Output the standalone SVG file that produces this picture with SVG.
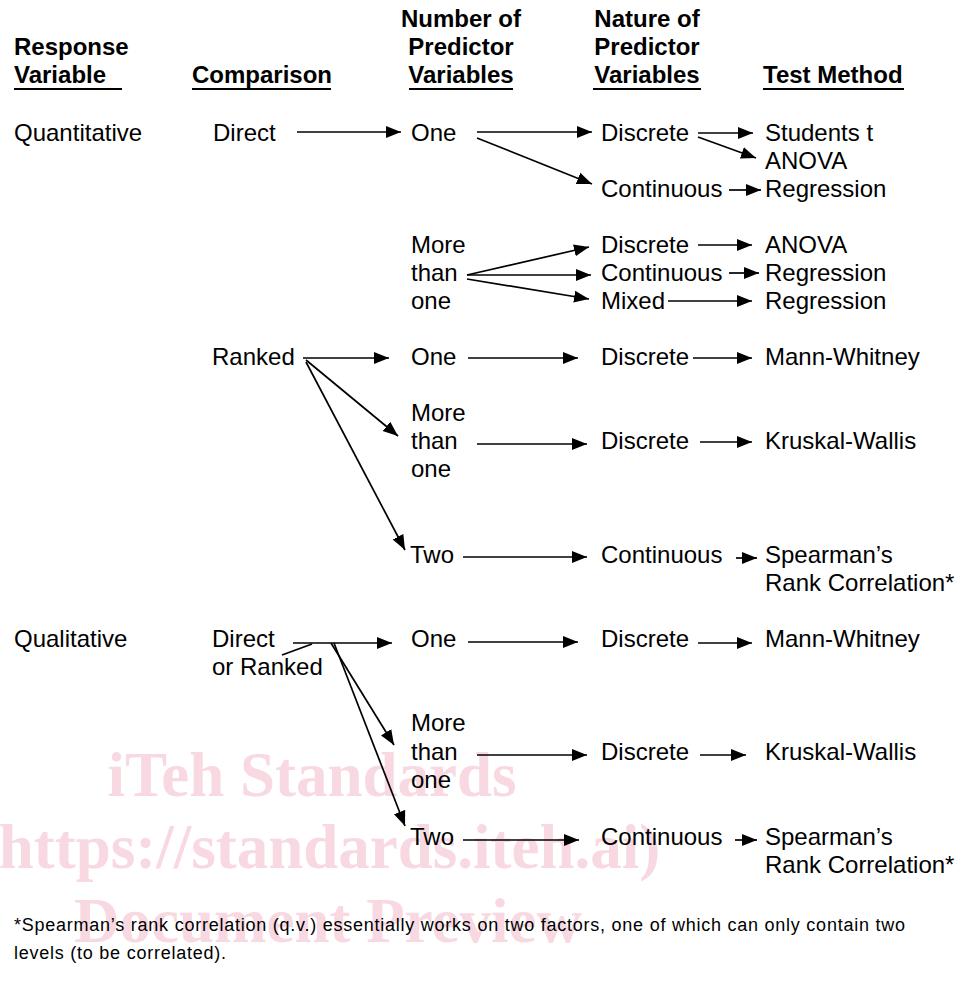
<svg xmlns="http://www.w3.org/2000/svg" width="960" height="991" viewBox="0 0 960 991">
<defs>
<marker id="ah" markerUnits="userSpaceOnUse" markerWidth="16" markerHeight="13" refX="15" refY="6.5" orient="auto">
<path d="M0,0.5 L15,6.5 L0,12.5 z" fill="#000"/>
</marker>
<style>
.t{font-family:"Liberation Sans",Arial,sans-serif;font-size:24px;fill:#000}
.h{font-family:"Liberation Sans",Arial,sans-serif;font-size:24px;font-weight:bold;fill:#000}
.m{text-anchor:middle}
.u{stroke:#000;stroke-width:2}
.c path{fill:none;stroke:#000;stroke-width:1.7;marker-end:url(#ah)}
.c .p{marker-end:none}
.w{font-family:"Liberation Serif","Times New Roman",serif;font-size:63px;font-weight:bold;fill:#f8d9e1;text-anchor:middle}
.f{font-family:"Liberation Sans",Arial,sans-serif;font-size:18px;fill:#000}
</style>
</defs>
<rect width="960" height="991" fill="#fff"/>
<g id="watermark">
<text class="w" x="312" y="796">iTeh Standards</text>
<text class="w" x="319" y="868">(https://standards.iteh.ai)</text>
<text class="w" x="328" y="942">Document Preview</text>
</g>
<g id="headers">
<text class="h" x="14" y="55">Response</text>
<text class="h" x="14" y="83">Variable</text>
<text class="h" x="192" y="83">Comparison</text>
<text class="h m" x="461" y="27">Number of</text>
<text class="h m" x="461" y="55">Predictor</text>
<text class="h m" x="461" y="83">Variables</text>
<text class="h m" x="647" y="27">Nature of</text>
<text class="h m" x="647" y="55">Predictor</text>
<text class="h m" x="647" y="83">Variables</text>
<text class="h" x="763" y="83">Test Method</text>
<line class="u" x1="14" y1="89" x2="122" y2="89"/>
<line class="u" x1="192" y1="89" x2="331" y2="89"/>
<line class="u" x1="409" y1="89" x2="513" y2="89"/>
<line class="u" x1="593" y1="89" x2="701" y2="89"/>
<line class="u" x1="763" y1="89" x2="904" y2="89"/>
</g>
<g id="n-quantitative"><text class="t" x="14" y="141">Quantitative</text></g>
<g id="n-direct"><text class="t" x="213" y="141">Direct</text></g>
<g id="n-q-one"><text class="t" x="411" y="141">One</text></g>
<g id="n-q-one-discrete"><text class="t" x="601" y="141">Discrete</text></g>
<g id="n-students"><text class="t" x="765" y="141">Students t</text></g>
<g id="n-anova1"><text class="t" x="765" y="169">ANOVA</text></g>
<g id="n-q-one-cont"><text class="t" x="601" y="197">Continuous</text></g>
<g id="n-regr1"><text class="t" x="765" y="197">Regression</text></g>
<g id="n-q-more"><text class="t" x="411" y="253">More</text><text class="t" x="411" y="281">than</text><text class="t" x="411" y="309">one</text></g>
<g id="n-q-more-discrete"><text class="t" x="601" y="253">Discrete</text></g>
<g id="n-q-more-cont"><text class="t" x="601" y="281">Continuous</text></g>
<g id="n-q-more-mixed"><text class="t" x="601" y="309">Mixed</text></g>
<g id="n-anova2"><text class="t" x="765" y="253">ANOVA</text></g>
<g id="n-regr2"><text class="t" x="765" y="281">Regression</text></g>
<g id="n-regr3"><text class="t" x="765" y="309">Regression</text></g>
<g id="n-ranked"><text class="t" x="212" y="365">Ranked</text></g>
<g id="n-r-one"><text class="t" x="411" y="365">One</text></g>
<g id="n-r-one-discrete"><text class="t" x="601" y="365">Discrete</text></g>
<g id="n-mw1"><text class="t" x="765" y="365">Mann-Whitney</text></g>
<g id="n-r-more"><text class="t" x="411" y="421">More</text><text class="t" x="411" y="449">than</text><text class="t" x="411" y="477">one</text></g>
<g id="n-r-more-discrete"><text class="t" x="601" y="449">Discrete</text></g>
<g id="n-kw1"><text class="t" x="765" y="449">Kruskal-Wallis</text></g>
<g id="n-r-two"><text class="t" x="410" y="563">Two</text></g>
<g id="n-r-two-cont"><text class="t" x="601" y="563">Continuous</text></g>
<g id="n-sp1"><text class="t" x="765" y="563">Spearman’s</text><text class="t" x="765" y="591">Rank Correlation*</text></g>
<g id="n-qualitative"><text class="t" x="14" y="647">Qualitative</text></g>
<g id="n-direct-ranked"><text class="t" x="212" y="647">Direct</text><text class="t" x="212" y="675">or Ranked</text></g>
<g id="n-l-one"><text class="t" x="411" y="647">One</text></g>
<g id="n-l-one-discrete"><text class="t" x="601" y="647">Discrete</text></g>
<g id="n-mw2"><text class="t" x="765" y="647">Mann-Whitney</text></g>
<g id="n-l-more"><text class="t" x="411" y="731">More</text><text class="t" x="411" y="760">than</text><text class="t" x="411" y="788">one</text></g>
<g id="n-l-more-discrete"><text class="t" x="601" y="760">Discrete</text></g>
<g id="n-kw2"><text class="t" x="765" y="760">Kruskal-Wallis</text></g>
<g id="n-l-two"><text class="t" x="410" y="845">Two</text></g>
<g id="n-l-two-cont"><text class="t" x="601" y="845">Continuous</text></g>
<g id="n-sp2"><text class="t" x="765" y="845">Spearman’s</text><text class="t" x="765" y="873">Rank Correlation*</text></g>
<g id="connectors" class="c">
<path d="M297,132 H401"/>
<path d="M477,132 H592"/>
<path d="M477,138 L592,184"/>
<path d="M698,133 H753"/>
<path d="M698,137 L756,158"/>
<path d="M729,190 H761"/>
<path d="M467,275 L589,247"/>
<path d="M467,275 H591"/>
<path d="M467,279 L589,299"/>
<path d="M698,245 H752"/>
<path d="M729,273 H759"/>
<path d="M668,301 H752"/>
<path d="M303,358 H389"/>
<path d="M306,360 L398,436"/>
<path d="M306,362 L405,550"/>
<path d="M468,358 H578"/>
<path d="M477,444 H587"/>
<path d="M463,557 H587"/>
<path d="M693,358 H752"/>
<path d="M700,442 H752"/>
<path d="M736,558 H757"/>
<path class="p" d="M282,655 L312,644"/>
<path d="M293,643 H392"/>
<path d="M331,643 L394,745"/>
<path d="M334,643 L405,826"/>
<path d="M468,642 H578"/>
<path d="M477,755 H587"/>
<path d="M463,840 H579"/>
<path d="M698,643 H752"/>
<path d="M700,755 H746"/>
<path d="M735,840 H757"/>
</g>
<g id="footnote">
<text class="f" x="14" y="931" textLength="891">*Spearman’s rank correlation (q.v.) essentially works on two factors, one of which can only contain two</text>
<text class="f" x="14" y="959" textLength="212">levels (to be correlated).</text>
</g>
</svg>
